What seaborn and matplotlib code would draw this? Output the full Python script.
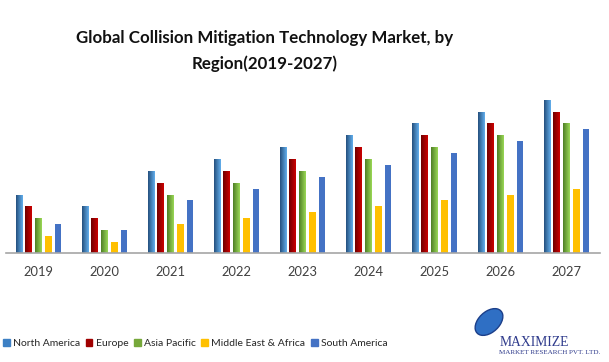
import seaborn as sns
import numpy as np
import matplotlib.pyplot as plt
import pandas as pd
from matplotlib.colors import LinearSegmentedColormap
from matplotlib.patches import Ellipse

# values (relative bar heights)
years = ['2019', '2020', '2021', '2022', '2023', '2024', '2025', '2026', '2027']
regions = ['North America', 'Europe', 'Asia Pacific', 'Middle East & Africa', 'South America']
north_america = [17.5, 14.2, 24.7, 28.3, 31.9, 35.5, 39.1, 42.4, 46.0]
europe = [14.2, 10.6, 21.1, 24.7, 28.3, 31.9, 35.5, 39.1, 42.4]
asia_pacific = [10.6, 7.0, 17.5, 21.1, 24.7, 28.3, 31.9, 35.5, 39.1]
middle_east_africa = [5.2, 3.4, 8.8, 10.6, 12.4, 14.2, 16.0, 17.5, 19.3]
south_america = [8.8, 7.0, 16.0, 19.3, 22.9, 26.5, 30.1, 33.7, 37.3]

colors = ['#3d80c4', '#a00000', '#76a83a', '#ffc000', '#4472c4']
# left -> right shading for the first three series
gradients = {0: ('#25507e', '#62aeec'), 1: ('#700000', '#cc0000'), 2: ('#4f7f25', '#9ad856')}

df = pd.DataFrame({'North America': north_america, 'Europe': europe,
                   'Asia Pacific': asia_pacific, 'Middle East & Africa': middle_east_africa,
                   'South America': south_america}, index=years)
df = df.reset_index().melt(id_vars='index', var_name='region', value_name='value')
df = df.rename(columns={'index': 'year'})

sns.set_style('white')
plt.rcParams['font.family'] = ['Lato', 'DejaVu Sans']

fig = plt.figure(figsize=(6.09, 3.62), dpi=100)
ax = fig.add_axes([5.5 / 609, 1 - 253 / 362, 594 / 609, 153 / 362 / 0.96])

sns.barplot(data=df, x='year', y='value', hue='region', hue_order=regions,
            palette=colors, saturation=1, width=0.74, gap=0.3, linewidth=0,
            ax=ax, legend=False)

ax.set_xlim(-0.5, 8.5)
ax.set_ylim(0, 46.0 / 0.96)

# gradient fill
for i, (c0, c1) in gradients.items():
    cmap = LinearSegmentedColormap.from_list('g%d' % i, [c0, c1])
    for bar in ax.containers[i]:
        x0, w, h = bar.get_x(), bar.get_width(), bar.get_height()
        im = ax.imshow(np.linspace(0, 1, 32).reshape(1, -1), cmap=cmap, aspect='auto',
                       extent=(x0, x0 + w, 0, h), zorder=bar.get_zorder() + 0.1,
                       interpolation='bilinear')
        im.set_clip_path(bar)
ax.set_xlim(-0.5, 8.5)
ax.set_ylim(0, 46.0 / 0.96)

ax.set_xlabel('')
ax.set_ylabel('')
ax.set_yticks([])
for s in ['top', 'right', 'left']:
    ax.spines[s].set_visible(False)
ax.spines['bottom'].set_color('#a6a6a6')
ax.spines['bottom'].set_linewidth(1.2)
ax.tick_params(axis='x', length=0, pad=9, labelsize=9.3, labelcolor='#404040')

fig.text(0.434, 0.895, 'Global Collision Mitigation Technology Market, by',
         ha='center', va='center', fontsize=12.2, fontweight='bold', color='#111111')
fig.text(0.434, 0.825, 'Region(2019-2027)',
         ha='center', va='center', fontsize=12.2, fontweight='bold', color='#111111')

handles = [plt.Rectangle((0, 0), 1, 1, color=c) for c in colors]
fig.legend(handles, regions, loc='center left', bbox_to_anchor=(-0.002, 0.052), ncol=5,
           frameon=False, fontsize=7.5, handlelength=0.65, handleheight=0.65,
           handletextpad=0.3, columnspacing=0.55, borderaxespad=0)

# logo
globe = Ellipse((489 / 609, 1 - 322 / 362), 24 / 609, 28 / 362, angle=-20,
                transform=fig.transFigure, facecolor='#2f6fc4', edgecolor='#1c3f8a', lw=1)
fig.add_artist(globe)
fig.text(500 / 609, 1 - 342 / 362, 'MAXIMIZE', fontsize=9.8, family='Liberation Serif',
         color='#2f3b8c', ha='left', va='center')
fig.text(499 / 609, 1 - 353 / 362, 'MARKET RESEARCH PVT. LTD.', fontsize=5.1,
         family='Liberation Serif', color='#2f3b8c', ha='left', va='center')

plt.savefig('out.png', dpi=100)
